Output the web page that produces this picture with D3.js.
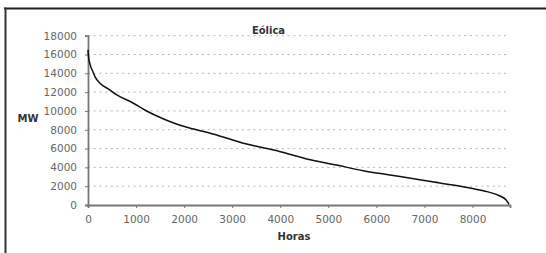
<!DOCTYPE html>
<html>
<head>
<meta charset="utf-8">
<script src="https://cdn.jsdelivr.net/npm/d3@7"></script>
<style>
  html, body { margin: 0; padding: 0; background: #fff; }
  svg { display: block; }
  text { font-family: "DejaVu Sans", sans-serif; }
</style>
</head>
<body>
<svg id="chart" width="546" height="253"></svg>
<script>
// ---- data ----
const title = "Eólica";
const xLabel = "Horas";
const yLabel = "MW";
const hours = [0, 10, 40, 100, 150, 250, 450, 600, 900, 1200, 1550, 1900, 2200, 2600, 3300, 4000, 4550, 5170, 5730, 6280, 6840, 7100, 7600, 8000, 8300, 8570, 8700, 8760];
const mw    = [16500, 15800, 15000, 14200, 13600, 12950, 12250, 11700, 10950, 10050, 9200, 8500, 8080, 7550, 6480, 5670, 4900, 4250, 3650, 3190, 2740, 2520, 2120, 1750, 1420, 960, 530, 80];
const xTicks = [0, 1000, 2000, 3000, 4000, 5000, 6000, 7000, 8000];
const yTicks = [0, 2000, 4000, 6000, 8000, 10000, 12000, 14000, 16000, 18000];

// ---- layout ----
const svg = d3.select("#chart");
const pLeft = 88, pRight = 510, pTop = 35.7, pBottom = 205;

const x = d3.scaleLinear().domain([0, 8780]).range([pLeft, pRight]);
const y = d3.scaleLinear().domain([0, 18000]).range([pBottom, pTop]);

// frame (partial border)
svg.append("line").attr("x1", 4).attr("x2", 546).attr("y1", 8.5).attr("y2", 8.5)
  .attr("stroke", "#222").attr("stroke-width", 2.2);
svg.append("line").attr("x1", 5.5).attr("x2", 5.5).attr("y1", 7.5).attr("y2", 253)
  .attr("stroke", "#333").attr("stroke-width", 2);

// gridlines
svg.append("g").selectAll("line").data(yTicks.filter(d => d > 0)).join("line")
  .attr("x1", pLeft).attr("x2", pRight)
  .attr("y1", d => y(d)).attr("y2", d => y(d))
  .attr("stroke", "#b5b5b5").attr("stroke-width", 1)
  .attr("stroke-dasharray", "2,3.7");

// y axis
const yAxis = svg.append("g").attr("transform", `translate(${pLeft},0)`)
  .call(d3.axisLeft(y).tickValues(yTicks).tickSize(3).tickPadding(8).tickFormat(d3.format("d")));
yAxis.select(".domain").attr("stroke", "#777").attr("stroke-width", 1.8);
yAxis.selectAll(".tick line").attr("stroke", "#777");
yAxis.selectAll("text").attr("fill", "#666").attr("font-size", 10.5)
  .attr("font-family", "DejaVu Sans, sans-serif");

// x axis
const xAxis = svg.append("g").attr("transform", `translate(0,${pBottom})`)
  .call(d3.axisBottom(x).tickValues(xTicks).tickSize(3).tickPadding(8).tickFormat(d3.format("d")));
xAxis.select(".domain").attr("stroke", "#777").attr("stroke-width", 1.8);
xAxis.selectAll(".tick line").attr("stroke", "#777");
xAxis.selectAll("text").attr("fill", "#666").attr("font-size", 10.5)
  .attr("font-family", "DejaVu Sans, sans-serif");

// curve
const pts = hours.map((h, i) => [h, mw[i]]);
svg.append("path").datum(pts)
  .attr("fill", "none").attr("stroke", "#111").attr("stroke-width", 1.5)
  .attr("stroke-linejoin", "round")
  .attr("d", d3.line().x(d => x(d[0])).y(d => y(d[1])).curve(d3.curveMonotoneX));

// labels
svg.append("text").attr("x", 268.5).attr("y", 34).attr("text-anchor", "middle")
  .attr("font-size", 10).attr("font-weight", "bold").attr("fill", "#333").text(title);
svg.append("text").attr("x", 294).attr("y", 240).attr("text-anchor", "middle")
  .attr("font-size", 10).attr("font-weight", "bold").attr("fill", "#333").text(xLabel);
svg.append("text").attr("x", 28).attr("y", 122).attr("text-anchor", "middle")
  .attr("font-size", 10).attr("font-weight", "bold").attr("fill", "#333").text(yLabel);
</script>
</body>
</html>
